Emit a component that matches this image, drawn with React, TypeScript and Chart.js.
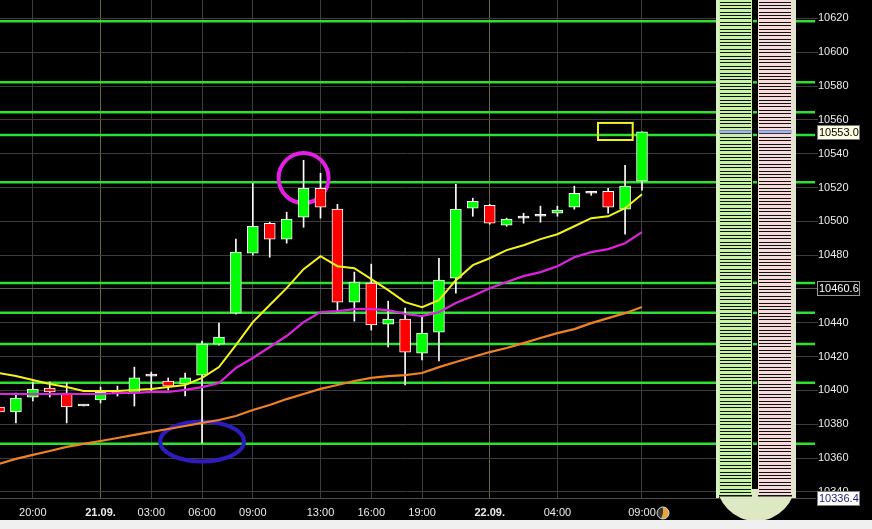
import React, { useEffect, useRef } from 'react';
import { Chart, registerables } from 'chart.js';

Chart.register(...registerables);

// ---- Data (hourly candles, index 0..38) ----
const opens = [10390.2, 10387.3, 10396.1, 10401.4, 10398.5, 10390.8, 10394.4, 10399.1, 10398.5, 10408.5, 10405.6, 10403.8, 10409.1, 10427.4, 10445.7, 10481.2, 10498.9, 10489.5, 10502.5, 10519.6, 10507.2, 10452.2, 10463.5, 10439.2, 10442.2, 10422.1, 10434.5, 10466.4, 10507.8, 10509.5, 10497.7, 10501.9, 10503.0, 10504.8, 10508.4, 10516.6, 10517.8, 10507.2, 10523.7];
const highs = [10391.4, 10398.5, 10405.0, 10405.0, 10404.4, 10390.8, 10402.0, 10402.6, 10413.8, 10410.9, 10407.4, 10410.3, 10429.2, 10439.8, 10489.5, 10522.5, 10499.5, 10505.4, 10536.1, 10528.4, 10510.1, 10470.0, 10474.7, 10452.8, 10448.7, 10443.4, 10478.2, 10521.9, 10513.7, 10510.1, 10501.9, 10504.8, 10509.0, 10509.0, 10520.8, 10517.8, 10519.6, 10533.2, 10553.0];
const lows = [10386.1, 10380.8, 10393.8, 10396.1, 10380.8, 10390.8, 10392.6, 10396.7, 10390.8, 10399.7, 10400.3, 10396.7, 10369.0, 10426.8, 10445.1, 10480.0, 10478.8, 10487.1, 10496.5, 10501.9, 10446.3, 10441.0, 10435.7, 10425.7, 10403.2, 10418.0, 10417.4, 10457.6, 10503.0, 10498.3, 10497.1, 10498.9, 10499.5, 10503.0, 10507.2, 10515.4, 10504.8, 10492.4, 10518.4];
const closes = [10387.3, 10395.5, 10400.8, 10399.1, 10390.2, 10390.8, 10399.1, 10397.9, 10407.4, 10408.5, 10402.6, 10407.4, 10427.4, 10431.6, 10481.8, 10497.1, 10489.5, 10501.3, 10519.6, 10508.4, 10452.2, 10464.1, 10438.7, 10442.2, 10422.7, 10433.9, 10465.2, 10507.2, 10511.9, 10498.9, 10501.3, 10501.9, 10503.0, 10506.6, 10516.6, 10516.6, 10508.4, 10520.8, 10553.0];

// Moving averages
const maFast = [10410.3, 10408.5, 10406.2, 10403.8, 10402.0, 10399.7, 10399.7, 10399.7, 10400.3, 10400.9, 10402.0, 10403.2, 10407.4, 10413.8, 10426.8, 10440.4, 10450.5, 10460.5, 10471.7, 10479.4, 10473.5, 10472.3, 10465.8, 10459.3, 10452.2, 10449.3, 10453.4, 10465.2, 10474.1, 10478.2, 10483.0, 10485.9, 10489.5, 10492.4, 10497.1, 10501.9, 10503.0, 10507.8, 10516.0];
const maMid = [10397.9, 10397.9, 10397.9, 10397.9, 10397.9, 10397.9, 10397.9, 10398.5, 10398.5, 10399.1, 10399.1, 10400.3, 10402.0, 10404.4, 10413.3, 10419.2, 10425.7, 10432.2, 10440.4, 10446.3, 10446.9, 10448.1, 10448.1, 10447.5, 10445.2, 10444.0, 10446.3, 10451.7, 10455.8, 10460.5, 10464.1, 10467.6, 10470.0, 10473.5, 10478.8, 10481.8, 10483.6, 10487.1, 10493.6];
const maSlow = [10356.6, 10359.5, 10361.9, 10364.2, 10366.6, 10368.4, 10370.1, 10371.9, 10373.7, 10375.5, 10377.2, 10379.0, 10380.8, 10382.5, 10384.9, 10388.4, 10391.4, 10394.9, 10397.9, 10400.9, 10403.2, 10405.6, 10407.4, 10408.5, 10409.1, 10410.3, 10413.8, 10416.8, 10419.8, 10422.7, 10425.1, 10428.0, 10431.0, 10433.9, 10436.3, 10439.8, 10442.8, 10445.7, 10449.3];

// Horizontal support / resistance levels
const supportLevels = [10618.4, 10582.2, 10564.5, 10551.1, 10523.1, 10463.6, 10445.9, 10427.4, 10404.5, 10368.5];

// Axis ticks
const yTickValues = [10340, 10360, 10380, 10400, 10420, 10440, 10460, 10480, 10500, 10520, 10540, 10560, 10580, 10600, 10620];
const xTickIndex = [2, 6, 9, 12, 15, 19, 22, 25, 29, 33, 38];
const xTickLabels = ['20:00', '21.09.', '03:00', '06:00', '09:00', '13:00', '16:00', '19:00', '22.09.', '04:00', '09:00'];
const dateTickIndex = [6, 29];

// Price markers on the right axis
const lastPrice = 10553.0;
const levelMarker = 10460.6;
const lowMarker = 10336.4;
const yMin = 10336.4;
const yMax = 10630.9;
const xMin = 0.059;
const xMax = 48.224;

// Annotations (data coordinates)
const circleMark = { x: 18, y: 10525.6 };
const ellipseMark = { x: 12, y: 10369.8 };
const boxMark = { x0: 35.4, x1: 37.45, y0: 10548.1, y1: 10558.2 };
const depthStep = 2;

const FONT = 'Liberation Sans, Arial, sans-serif';
const idx = opens.map((_, i) => i);

const overlayPlugin = {
  id: 'overlay',
  beforeDraw(chart: any) {
    const c = chart.ctx;
    c.save();
    c.fillStyle = '#000000';
    c.fillRect(0, 0, chart.width, chart.height);
    c.restore();
  },
  beforeDatasetsDraw(chart: any) {
    const { ctx, chartArea, scales } = chart;
    const x = scales.x, y = scales.y;
    ctx.save();
    ctx.strokeStyle = '#5e5e5e';
    ctx.lineWidth = 1;
    const my = Math.round(y.getPixelForValue(levelMarker)) + 0.5;
    ctx.beginPath();
    ctx.moveTo(chartArea.left, my);
    ctx.lineTo(chartArea.right + 2, my);
    ctx.stroke();
    ctx.strokeStyle = '#2fe02f';
    ctx.lineWidth = 2.5;
    for (const v of supportLevels) {
      const py = y.getPixelForValue(v);
      ctx.beginPath();
      ctx.moveTo(chartArea.left, py);
      ctx.lineTo(chartArea.right, py);
      ctx.stroke();
    }
    ctx.beginPath();
    ctx.strokeStyle = '#e41ee4';
    ctx.lineWidth = 4;
    ctx.arc(x.getPixelForValue(circleMark.x), y.getPixelForValue(circleMark.y), 25, 0, Math.PI * 2);
    ctx.stroke();
    ctx.beginPath();
    ctx.strokeStyle = '#2e1cc0';
    ctx.lineWidth = 4;
    ctx.ellipse(x.getPixelForValue(ellipseMark.x), y.getPixelForValue(ellipseMark.y), 42, 20, 0, 0, Math.PI * 2);
    ctx.stroke();
    ctx.strokeStyle = '#f2f21e';
    ctx.lineWidth = 2;
    const bx0 = x.getPixelForValue(boxMark.x0), bx1 = x.getPixelForValue(boxMark.x1);
    const by0 = y.getPixelForValue(boxMark.y1), by1 = y.getPixelForValue(boxMark.y0);
    ctx.strokeRect(bx0, by0, bx1 - bx0, by1 - by0);
    ctx.restore();
  },
  afterDatasetsDraw(chart: any) {
    const { ctx, chartArea, scales } = chart;
    const y = scales.y;
    const bottom = chartArea.bottom;
    ctx.save();
    const L = 716, R = 796, cx = 756;
    ctx.fillStyle = '#000000';
    ctx.fillRect(L, 0, R - L, bottom);
    ctx.fillStyle = '#dde9c3';
    ctx.beginPath();
    ctx.moveTo(L, 0);
    ctx.lineTo(L, 480);
    ctx.ellipse(cx, 480, 40, 41, 0, Math.PI, 0, true);
    ctx.lineTo(R, 0);
    ctx.closePath();
    ctx.fill();
    ctx.fillStyle = '#000000';
    ctx.fillRect(752, 0, 6, 489);
    const cols = [
      { x0: 719, x1: 752, fill: '#c8f3a2' },
      { x0: 758, x1: 792, fill: '#f7dbdb' },
    ];
    for (const col of cols) {
      ctx.fillStyle = col.fill;
      ctx.fillRect(col.x0, 0, col.x1 - col.x0, bottom - 1);
      ctx.fillStyle = '#101010';
      for (let v = Math.ceil(yMin / depthStep) * depthStep; v <= yMax; v += depthStep) {
        const py = Math.round(y.getPixelForValue(v));
        ctx.fillRect(col.x0 + 1, py, col.x1 - col.x0 - 2, 1);
      }
      ctx.fillRect(col.x0, bottom - 3, col.x1 - col.x0, 1.5);
    }
    ctx.fillStyle = '#d7f2c2';
    ctx.fillRect(L, 0, 3, bottom);
    ctx.fillStyle = '#e3e6cf';
    ctx.fillRect(792, 0, 4, bottom);
    ctx.strokeStyle = '#2fe02f';
    ctx.lineWidth = 2.5;
    for (const v of supportLevels) {
      const py = y.getPixelForValue(v);
      ctx.beginPath();
      ctx.moveTo(753, py);
      ctx.lineTo(757, py);
      ctx.stroke();
    }
    const lp = y.getPixelForValue(lastPrice);
    ctx.fillStyle = '#a4b5ee';
    ctx.fillRect(719, lp - 1.5, 33, 3);
    ctx.fillRect(758, lp - 1.5, 34, 3);
    ctx.restore();
  },
  afterDraw(chart: any) {
    const { ctx, scales } = chart;
    const y = scales.y;
    ctx.save();
    ctx.font = `11px ${FONT}`;
    ctx.textBaseline = 'middle';
    const boxes = [
      { v: lastPrice, bg: '#ffffe1', fg: '#000000', bd: '#777777' },
      { v: levelMarker, bg: '#000000', fg: '#ffffff', bd: '#9a9a9a' },
      { v: lowMarker, bg: '#ffffff', fg: '#1c1c80', bd: '#808080' },
    ];
    for (const b of boxes) {
      const py = Math.round(y.getPixelForValue(b.v));
      ctx.fillStyle = b.bg;
      ctx.fillRect(817, py - 7, 42, 14);
      ctx.strokeStyle = b.bd;
      ctx.lineWidth = 1;
      ctx.strokeRect(817.5, py - 6.5, 42, 14);
      ctx.fillStyle = b.fg;
      ctx.fillText(b.v.toFixed(1), 819, py + 0.5);
    }
    ctx.beginPath();
    ctx.arc(663, 513, 6, 0, Math.PI * 2);
    ctx.fillStyle = '#3a3a3a';
    ctx.fill();
    ctx.beginPath();
    ctx.moveTo(663, 513);
    ctx.arc(663, 513, 6, -Math.PI / 2, Math.PI * 0.6);
    ctx.closePath();
    ctx.fillStyle = '#e8a53a';
    ctx.fill();
    ctx.beginPath();
    ctx.arc(663, 513, 6, 0, Math.PI * 2);
    ctx.strokeStyle = '#d8d8d8';
    ctx.lineWidth = 1;
    ctx.stroke();
    ctx.restore();
  },
};

export default function App() {
  const ref = useRef<HTMLCanvasElement | null>(null);
  useEffect(() => {
    document.body.style.margin = '0';
    document.body.style.background = '#f0f0f0';
    if (!ref.current) return;
    const bodyColors = idx.map((i) =>
      closes[i] > opens[i] ? '#00ff00' : closes[i] < opens[i] ? '#ff0000' : '#ffffff'
    );
    const chart = new Chart(ref.current, {
      type: 'bar',
      data: {
        datasets: [
          {
            type: 'line',
            data: idx.map((i) => ({ x: i, y: maFast[i] })),
            borderColor: '#f4f41c',
            borderWidth: 2,
            pointRadius: 0,
            order: 1,
          } as any,
          {
            type: 'line',
            data: idx.map((i) => ({ x: i, y: maMid[i] })),
            borderColor: '#de22de',
            borderWidth: 2.2,
            pointRadius: 0,
            order: 1,
          } as any,
          {
            type: 'line',
            data: idx.map((i) => ({ x: i, y: maSlow[i] })),
            borderColor: '#f08226',
            borderWidth: 2.2,
            pointRadius: 0,
            order: 1,
          } as any,
          {
            type: 'bar',
            data: idx.map((i) => ({ x: i, y: [opens[i], closes[i]] })),
            backgroundColor: bodyColors,
            borderColor: '#ffffff',
            borderWidth: 1,
            borderSkipped: false,
            barThickness: 11,
            minBarLength: 2,
            grouped: false,
            order: 2,
          } as any,
          {
            type: 'bar',
            data: idx.map((i) => ({ x: i, y: [lows[i], highs[i]] })),
            backgroundColor: '#ffffff',
            borderWidth: 0,
            barThickness: 1,
            grouped: false,
            order: 3,
          } as any,
        ],
      },
      options: {
        responsive: false,
        animation: false,
        events: [],
        layout: { padding: 0 },
        plugins: { legend: { display: false }, tooltip: { enabled: false } },
        scales: {
          x: {
            type: 'linear',
            position: 'bottom',
            min: xMin,
            max: xMax,
            offset: false,
            grid: {
              offset: false,
              color: (c: any) =>
                c.tick && dateTickIndex.includes(c.tick.value) ? '#68683a' : '#3d3d3d',
              drawTicks: false,
              lineWidth: 1,
            },
            border: { display: true, color: '#4c4c4c' },
            ticks: {
              padding: 8,
              color: '#ececec',
              autoSkip: false,
              maxRotation: 0,
              font: (c: any) => ({
                family: FONT,
                size: 11,
                weight: c.tick && dateTickIndex.includes(c.tick.value) ? 'bold' : 'normal',
              }),
              callback: (v: any) => {
                const k = xTickIndex.indexOf(Number(v));
                return k >= 0 ? xTickLabels[k] : '';
              },
            },
            afterBuildTicks: (s: any) => {
              s.ticks = xTickIndex.map((v) => ({ value: v }));
            },
            afterFit: (s: any) => {
              s.height = 22;
              s.paddingLeft = 0;
              s.paddingRight = 0;
            },
          } as any,
          y: {
            type: 'linear',
            position: 'right',
            min: yMin,
            max: yMax,
            beginAtZero: false,
            grid: { color: '#3d3d3d', drawTicks: true, tickLength: 3, lineWidth: 1 },
            border: { display: false },
            ticks: {
              padding: 0,
              color: '#ececec',
              font: { family: FONT, size: 11 },
              callback: (v: any) => String(v),
            },
            afterBuildTicks: (s: any) => {
              s.ticks = yTickValues.map((v) => ({ value: v }));
            },
            afterFit: (s: any) => {
              s.width = 57;
              s.paddingTop = 0;
              s.paddingBottom = 0;
            },
          } as any,
        },
      },
      plugins: [overlayPlugin],
    } as any);
    return () => chart.destroy();
  }, []);
  return (
    <div style={{ width: 872, height: 520 }}>
      <canvas ref={ref} width={872} height={520} style={{ display: 'block' }} />
    </div>
  );
}
